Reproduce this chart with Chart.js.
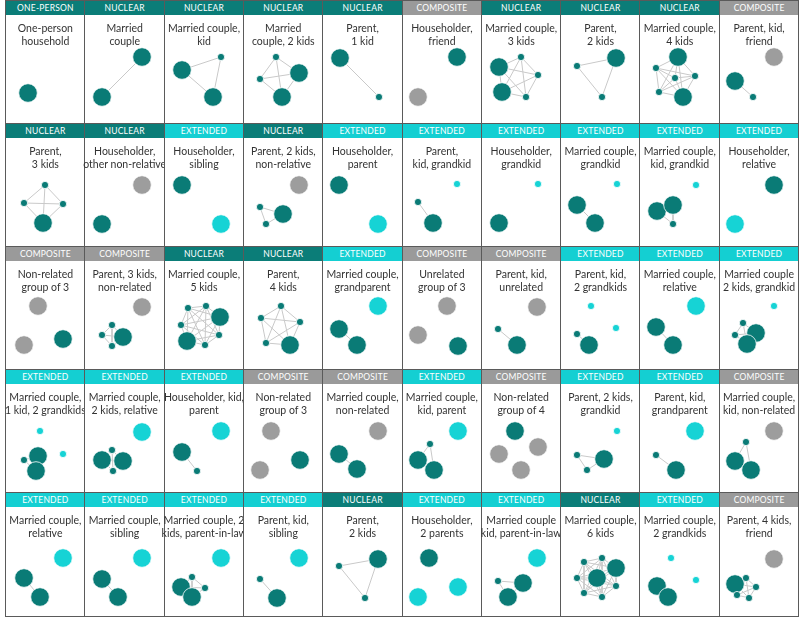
<!DOCTYPE html>
<html>
<head>
<meta charset="utf-8">
<script src="https://cdn.jsdelivr.net/npm/chart.js@4.4.1/dist/chart.umd.min.js"></script>
<style>
  body { margin: 0; background: #fff; font-family: Lato, "Open Sans", sans-serif; }
  #grid { position: relative; width: 800px; height: 622px; overflow: hidden; }
  .cell { position: absolute; box-sizing: border-box; border: 1.5px solid #5a5a5a; background: #fff; }
  .cell canvas { position: absolute; left: 0; top: 0; }
  .head { position: absolute; left: 0; right: 0; top: 0; height: 14px; line-height: 14px; color: #fff;
          font-size: 8.5px; text-align: center; letter-spacing: 0.2px; }
  .title { position: absolute; left: -3px; right: -3px; top: 21px; text-align: center; white-space: pre;
           font-size: 10.5px; line-height: 12.5px; color: #333; }
</style>
</head>
<body>
<div id="grid"></div>
<script>
// household types, row by row
const types = [
  'ONE-PERSON','NUCLEAR','NUCLEAR','NUCLEAR','NUCLEAR','COMPOSITE','NUCLEAR','NUCLEAR','NUCLEAR','COMPOSITE',
  'NUCLEAR','NUCLEAR','EXTENDED','NUCLEAR','EXTENDED','EXTENDED','EXTENDED','EXTENDED','EXTENDED','EXTENDED',
  'COMPOSITE','COMPOSITE','NUCLEAR','NUCLEAR','EXTENDED','COMPOSITE','COMPOSITE','EXTENDED','EXTENDED','EXTENDED',
  'EXTENDED','EXTENDED','EXTENDED','COMPOSITE','COMPOSITE','EXTENDED','COMPOSITE','EXTENDED','EXTENDED','COMPOSITE',
  'EXTENDED','EXTENDED','EXTENDED','EXTENDED','NUCLEAR','EXTENDED','EXTENDED','NUCLEAR','EXTENDED','COMPOSITE'
];

const titles = [
  'One-person\nhousehold','Married\ncouple','Married couple,\nkid','Married\ncouple, 2 kids','Parent,\n1 kid',
  'Householder,\nfriend','Married couple,\n3 kids','Parent,\n2 kids','Married couple,\n4 kids','Parent, kid,\nfriend',
  'Parent,\n3 kids','Householder,\nother non-relative','Householder,\nsibling','Parent, 2 kids,\nnon-relative','Householder,\nparent',
  'Parent,\nkid, grandkid','Householder,\ngrandkid','Married couple,\ngrandkid','Married couple,\nkid, grandkid','Householder,\nrelative',
  'Non-related\ngroup of 3','Parent, 3 kids,\nnon-related','Married couple,\n5 kids','Parent,\n4 kids','Married couple,\ngrandparent',
  'Unrelated\ngroup of 3','Parent, kid,\nunrelated','Parent, kid,\n2 grandkids','Married couple,\nrelative','Married couple\n2 kids, grandkid',
  'Married couple,\n1 kid, 2 grandkids','Married couple,\n2 kids, relative','Householder, kid,\nparent','Non-related\ngroup of 3','Married couple,\nnon-related',
  'Married couple,\nkid, parent','Non-related\ngroup of 4','Parent, 2 kids,\ngrandkid','Parent, kid,\ngrandparent','Married couple,\nkid, non-related',
  'Married couple,\nrelative','Married couple,\nsibling','Married couple, 2\nkids, parent-in-law','Parent, kid,\nsibling','Parent,\n2 kids',
  'Householder,\n2 parents','Married couple\nkid, parent-in-law','Married couple,\n6 kids','Married couple,\n2 grandkids','Parent, 4 kids,\nfriend'
];

// members per household: [x, y, kind] in cell pixels
// kind: P adult, k child, C relative, c young relative, G non-relative
const nodes = [
  [[23,93,'P']],
  [[58,57,'P'],[18,97,'P']],
  [[19,70,'P'],[58,57,'k'],[50,97,'P']],
  [[34,57,'k'],[18,79,'k'],[57,73,'P'],[40,97,'P']],
  [[18,58,'P'],[57,97,'k']],
  [[56,57,'P'],[17,97,'G']],
  [[19,67,'P'],[22,92,'P'],[41,57,'k'],[58,75,'k'],[46,97,'k']],
  [[17,66,'k'],[56,58,'P'],[42,97,'k']],
  [[39,57,'P'],[44,97,'P'],[17,68,'k'],[36,78,'k'],[56,76,'k'],[20,92,'k']],
  [[56,57,'G'],[17,81,'P'],[35,97,'k']],

  [[40,62,'k'],[19,80,'k'],[58,81,'k'],[38,100,'P']],
  [[58,62,'G'],[18,101,'P']],
  [[19,62,'P'],[58,101,'C']],
  [[57,62,'G'],[41,91,'P'],[18,84,'k'],[24,101,'k']],
  [[17,62,'P'],[56,101,'C']],
  [[56,61,'c'],[17,79,'k'],[32,100,'P']],
  [[58,61,'c'],[19,100,'P']],
  [[57,61,'c'],[17,82,'P'],[35,100,'P']],
  [[57,62,'c'],[18,88,'P'],[34,82,'P'],[34,101,'k']],
  [[56,62,'P'],[17,101,'C']],

  [[33,60,'G'],[19,99,'G'],[58,93,'P']],
  [[58,61,'G'],[39,91,'P'],[28,79,'k'],[18,89,'k'],[28,100,'k']],
  [[57,71,'P'],[24,95,'P'],[25,62,'k'],[43,60,'k'],[18,79,'k'],[56,89,'k'],[42,99,'k']],
  [[39,60,'k'],[19,72,'k'],[58,76,'k'],[24,97,'k'],[48,99,'P']],
  [[56,60,'C'],[17,83,'P'],[35,99,'P']],
  [[46,60,'G'],[17,89,'G'],[57,100,'P']],
  [[57,61,'G'],[18,83,'k'],[37,99,'P']],
  [[31,60,'c'],[56,82,'c'],[17,88,'k'],[29,99,'P']],
  [[57,60,'C'],[17,81,'P'],[34,99,'P']],
  [[56,60,'c'],[38,87,'P'],[29,98,'P'],[25,77,'k'],[17,89,'k']],

  [[35,62,'c'],[58,85,'c'],[33,87,'P'],[31,102,'P'],[19,91,'k']],
  [[58,63,'C'],[18,91,'P'],[39,92,'P'],[28,81,'k'],[29,102,'k']],
  [[58,62,'C'],[19,83,'P'],[34,102,'k']],
  [[29,62,'G'],[18,101,'G'],[58,91,'P']],
  [[56,62,'G'],[17,85,'P'],[35,100,'P']],
  [[57,62,'C'],[29,75,'k'],[17,91,'P'],[33,101,'P']],
  [[35,62,'P'],[58,78,'G'],[19,85,'G'],[41,101,'G']],
  [[57,62,'c'],[17,86,'k'],[44,90,'P'],[27,101,'k']],
  [[56,62,'C'],[17,86,'k'],[37,101,'P']],
  [[56,62,'G'],[28,73,'k'],[17,92,'P'],[33,101,'P']],

  [[58,66,'C'],[19,86,'P'],[35,105,'P']],
  [[58,66,'C'],[18,87,'P'],[34,105,'P']],
  [[58,66,'C'],[29,85,'k'],[42,96,'k'],[18,95,'P'],[29,105,'P']],
  [[57,66,'C'],[18,87,'k'],[35,106,'P']],
  [[56,67,'P'],[17,74,'k'],[43,106,'k']],
  [[28,66,'P'],[57,95,'C'],[17,105,'C']],
  [[57,66,'C'],[43,91,'P'],[28,105,'P'],[18,89,'k']],
  [[56,76,'P'],[37,86,'P'],[24,70,'k'],[42,66,'k'],[17,86,'k'],[56,94,'k'],[24,101,'k'],[42,105,'k']],
  [[32,66,'c'],[57,88,'c'],[18,94,'P'],[29,105,'P']],
  [[56,67,'G'],[17,92,'P'],[28,86,'k'],[38,95,'k'],[31,106,'k'],[19,103,'k']]
];

const headColors = { 'ONE-PERSON': '#0b7d78', NUCLEAR: '#0b7d78', EXTENDED: '#14cfd2', COMPOSITE: '#9a9a9a' };
const kindStyle = {
  P: { c: '#0a7b76', r: 9.3 }, k: { c: '#0a7b76', r: 3.6 },
  C: { c: '#16d3d5', r: 9.3 }, c: { c: '#16d3d5', r: 3.6 },
  G: { c: '#9d9d9d', r: 9.3 }
};

const grid = document.getElementById('grid');
const cw = 79.3, ch = 123.1, x0 = 5;

nodes.forEach((members, i) => {
  const col = i % 10, row = Math.floor(i / 10);
  const cell = document.createElement('div');
  cell.className = 'cell';
  cell.style.left = (x0 + col * cw) + 'px';
  cell.style.top = (row * ch) + 'px';
  cell.style.width = (cw + 1.5) + 'px';
  cell.style.height = (ch + 1.5) + 'px';
  const w = Math.round(cw), h = Math.round(ch);
  const cv = document.createElement('canvas');
  cv.width = w; cv.height = h;
  cv.style.width = w + 'px'; cv.style.height = h + 'px';
  cv.style.left = '-1.5px'; cv.style.top = '-1.5px';
  cell.appendChild(cv);
  const head = document.createElement('div');
  head.className = 'head';
  head.style.background = headColors[types[i]];
  head.textContent = types[i];
  cell.appendChild(head);
  const t = document.createElement('div');
  t.className = 'title';
  t.textContent = titles[i];
  cell.appendChild(t);
  grid.appendChild(cell);

  // family members (teal) are linked to each other
  const fam = members.filter(m => m[2] === 'P' || m[2] === 'k');
  const datasets = [];
  for (let a = 0; a < fam.length; a++)
    for (let b = a + 1; b < fam.length; b++)
      datasets.push({
        type: 'line',
        data: [{ x: fam[a][0], y: fam[a][1] }, { x: fam[b][0], y: fam[b][1] }],
        borderColor: '#c9c9c9', borderWidth: 1, pointRadius: 0, order: 2, clip: false
      });
  datasets.push({
    type: 'bubble',
    data: members.map(m => ({ x: m[0], y: m[1], r: kindStyle[m[2]].r })),
    backgroundColor: members.map(m => kindStyle[m[2]].c),
    borderColor: '#ffffff', borderWidth: 0.8, order: 1, clip: false
  });

  new Chart(cv.getContext('2d'), {
    data: { datasets },
    options: {
      responsive: false, animation: false, events: [],
      layout: { padding: 0, autoPadding: false },
      plugins: { legend: { display: false }, tooltip: { enabled: false } },
      scales: {
        x: { type: 'linear', min: 0, max: w, display: false },
        y: { type: 'linear', min: 0, max: h, reverse: true, display: false }
      }
    }
  });
});
</script>
</body>
</html>
